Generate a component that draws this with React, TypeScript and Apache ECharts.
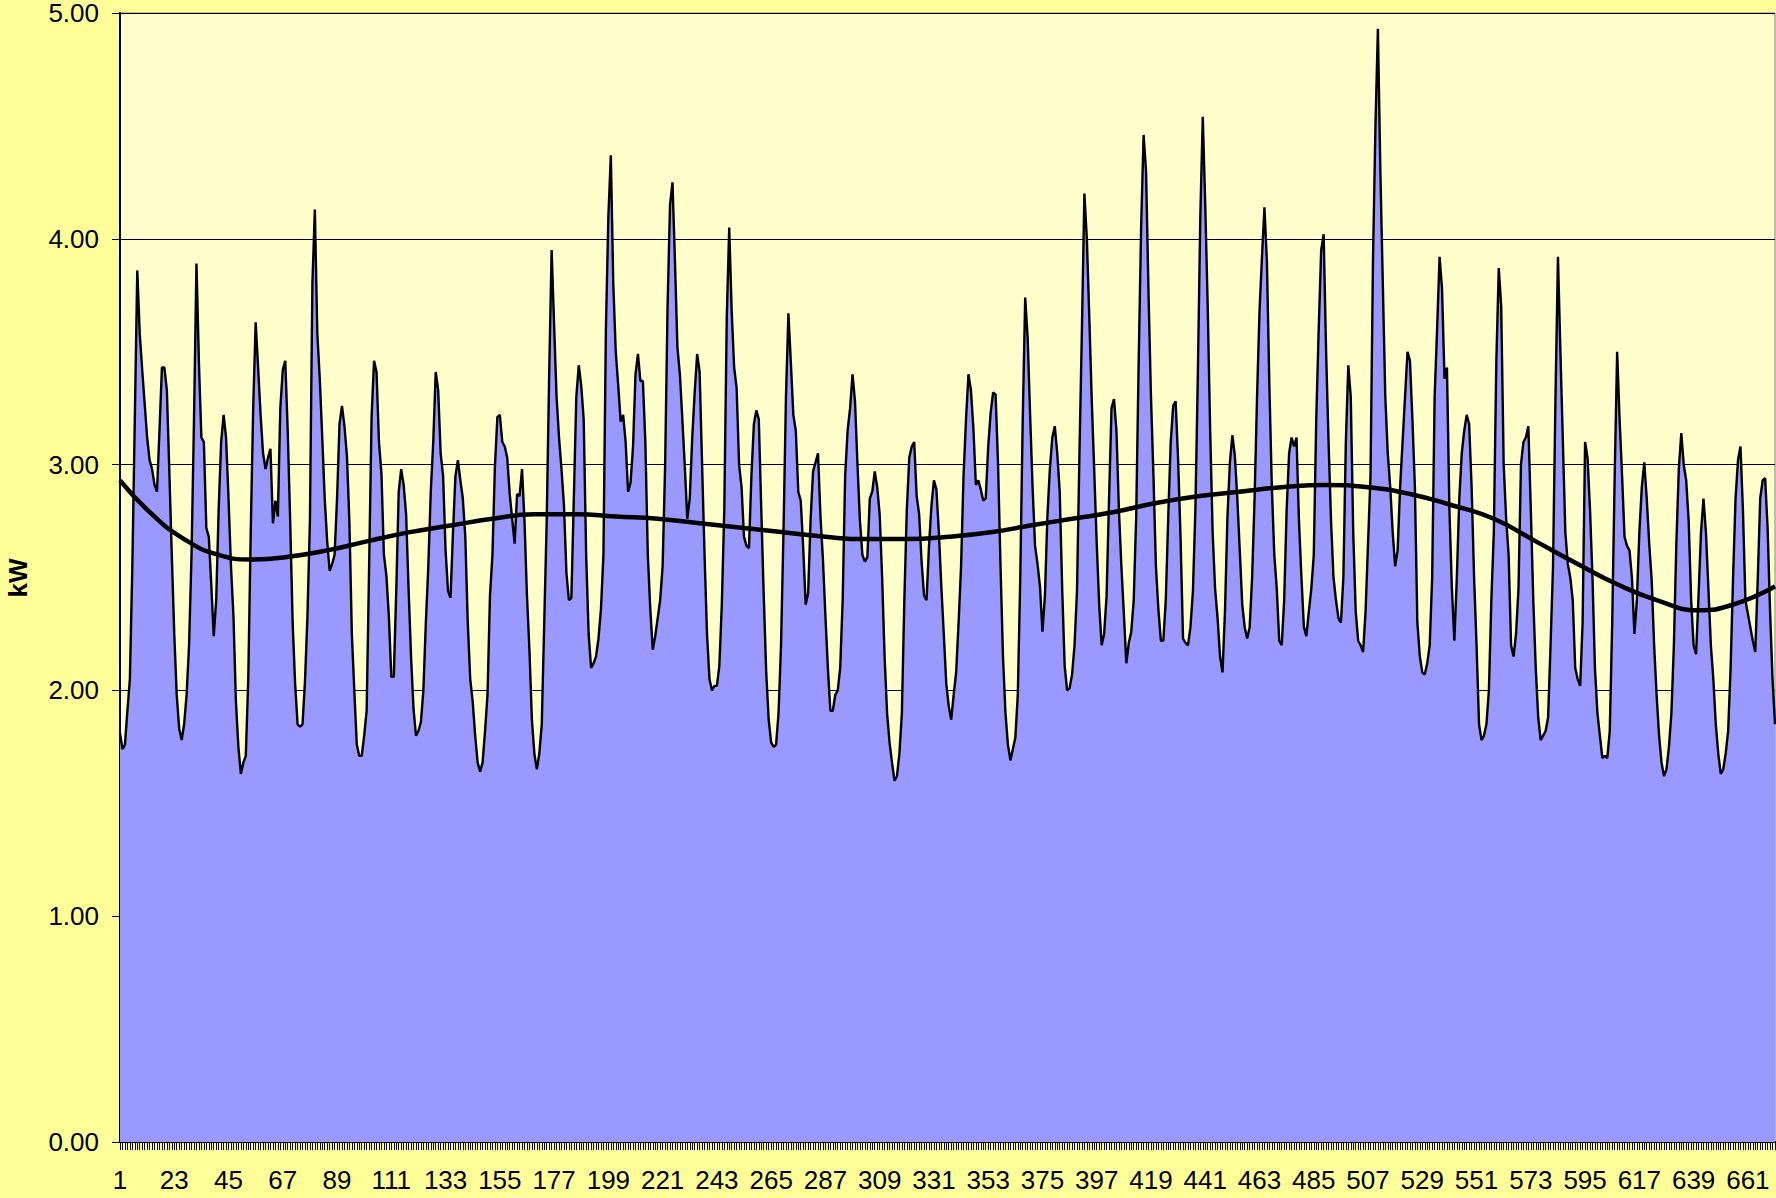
import React, { useEffect, useRef } from "react";
import * as echarts from "echarts";

// kW readings, consecutive intervals 1..672
const kwSegA = [
  1.81, 1.74, 1.76, 1.91, 2.05, 2.55, 3.2, 3.86, 3.58, 3.42,
  3.27, 3.12, 3.02, 2.98, 2.91, 2.88, 3.15, 3.43, 3.43, 3.33,
  2.97, 2.6, 2.25, 1.98, 1.83, 1.78, 1.85, 1.98, 2.2, 2.6,
  3.2, 3.89, 3.45, 3.12, 3.1, 2.72, 2.68, 2.47, 2.24, 2.4,
  2.8, 3.1, 3.22, 3.12, 2.85, 2.55, 2.33, 1.95, 1.75, 1.63,
  1.68, 1.71, 2.05, 2.7, 3.25, 3.63, 3.43, 3.22, 3.05, 2.98,
  3.03, 3.07, 2.74, 2.84, 2.77, 3.25, 3.42, 3.46,
];
const kwSegB = [
  3.15, 2.75, 2.3, 2.03, 1.85, 1.84, 1.85, 2.04, 2.33, 2.75,
  3.8, 4.13, 3.58, 3.38, 3.12, 2.85, 2.66, 2.53, 2.56, 2.6,
  2.85, 3.18, 3.26, 3.17, 3.04, 2.75, 2.25, 2.0, 1.76, 1.71,
  1.71, 1.8, 1.91, 2.55, 3.21, 3.46, 3.41, 3.1, 2.96, 2.6,
  2.51, 2.33, 2.06, 2.06, 2.44, 2.88, 2.98, 2.91, 2.78, 2.45,
  2.15, 1.92, 1.8, 1.82, 1.86, 2.0, 2.3, 2.55, 2.88, 3.1,
  3.41, 3.33, 3.05, 2.95, 2.62, 2.44, 2.41,
];
const kwSegC = [
  2.7, 2.95, 3.02, 2.93, 2.85, 2.68, 2.3, 2.05, 1.95, 1.8,
  1.68, 1.64, 1.68, 1.82, 1.98, 2.42, 2.6, 2.99, 3.21, 3.22,
  3.1, 3.08, 3.03, 2.87, 2.76, 2.65, 2.87, 2.86, 2.98, 2.75,
  2.42, 2.18, 1.87, 1.72, 1.65, 1.72, 1.85, 2.3, 2.75, 3.4,
  3.95, 3.62, 3.3, 3.12, 2.98, 2.82, 2.52, 2.4, 2.41, 2.85,
  3.3, 3.44, 3.35, 3.2, 2.6, 2.25, 2.1, 2.12, 2.15, 2.23,
  2.36, 2.6, 3.6, 4.1, 4.37, 3.8, 3.5,
];
const kwSegD = [
  3.35, 3.19, 3.22, 3.1, 2.88, 2.92, 3.08, 3.4, 3.49, 3.37,
  3.37, 3.1, 2.6, 2.36, 2.18, 2.24, 2.32, 2.4, 2.55, 2.99,
  3.7, 4.15, 4.25, 3.9, 3.52, 3.4, 3.2, 2.99, 2.76, 2.85,
  3.12, 3.32, 3.49, 3.41, 3.0, 2.6, 2.25, 2.05, 2.0, 2.02,
  2.02, 2.11, 2.38, 2.8, 3.65, 4.05, 3.68, 3.43, 3.34, 3.0,
  2.9, 2.68, 2.64, 2.63, 2.95, 3.18, 3.24, 3.2, 2.8, 2.42,
  2.08, 1.87, 1.77, 1.75, 1.76, 1.9, 2.2,
];
const kwSegE = [
  2.7, 3.3, 3.67, 3.45, 3.22, 3.15, 2.88, 2.84, 2.63, 2.38,
  2.43, 2.76, 2.97, 3.01, 3.05, 2.77, 2.58, 2.33, 2.1, 1.91,
  1.91, 1.98, 2.0, 2.1, 2.4, 2.95, 3.15, 3.25, 3.4, 3.28,
  3.0, 2.75, 2.6, 2.57, 2.59, 2.85, 2.88, 2.97, 2.9, 2.78,
  2.5, 2.15, 1.9, 1.77, 1.68, 1.6, 1.62, 1.72, 1.9, 2.4,
  2.8, 3.03, 3.08, 3.1, 2.86, 2.78, 2.57, 2.42, 2.4, 2.64,
  2.82, 2.93, 2.89, 2.7, 2.46, 2.25, 2.03, 1.93,
];
const kwSegF = [
  1.87, 1.98, 2.08, 2.3, 2.55, 2.95, 3.2, 3.4, 3.33, 3.16,
  2.91, 2.93, 2.89, 2.84, 2.85, 3.08, 3.23, 3.32, 3.31, 3.0,
  2.55, 2.15, 1.9, 1.76, 1.69, 1.74, 1.79, 1.98, 2.5, 3.2,
  3.74, 3.56, 3.22, 2.9, 2.64, 2.56, 2.46, 2.26, 2.42, 2.77,
  2.98, 3.12, 3.17, 3.05, 2.88, 2.45, 2.11, 2.0, 2.01, 2.07,
  2.2, 2.44, 3.05, 3.6, 4.2, 4.0, 3.65, 3.28, 2.97, 2.65,
  2.38, 2.2, 2.25, 2.42, 2.85, 3.25, 3.29,
];
const kwSegG = [
  3.15, 2.8, 2.55, 2.34, 2.12, 2.21, 2.26, 2.4, 2.77, 3.45,
  4.05, 4.46, 4.3, 3.76, 3.3, 2.95, 2.55, 2.36, 2.22, 2.22,
  2.4, 2.77, 3.1, 3.26, 3.28, 3.02, 2.67, 2.23, 2.21, 2.2,
  2.28, 2.44, 2.8, 3.4, 4.1, 4.54, 4.15, 3.7, 3.15, 2.7,
  2.45, 2.32, 2.15, 2.08, 2.35, 2.77, 3.01, 3.13, 3.04, 2.85,
  2.62, 2.38, 2.28, 2.23, 2.28, 2.5, 2.85, 3.3, 3.68, 3.92,
  4.14, 3.9, 3.35, 2.9, 2.6, 2.45, 2.22, 2.2,
];
const kwSegH = [
  2.4, 2.8, 3.05, 3.12, 3.08, 3.12, 2.75, 2.5, 2.28, 2.24,
  2.35, 2.45, 2.6, 3.2, 3.6, 3.95, 4.02, 3.5, 3.1, 2.75,
  2.5, 2.4, 2.32, 2.3, 2.5, 3.1, 3.44, 3.3, 2.7, 2.35,
  2.22, 2.2, 2.17, 2.35, 2.65, 2.95, 3.9, 4.5, 4.93, 4.3,
  3.8, 3.3, 3.05, 2.9, 2.7, 2.55, 2.62, 2.9, 3.1, 3.3,
  3.5, 3.46, 3.2, 2.9, 2.3, 2.15, 2.08, 2.07, 2.12, 2.2,
  2.5, 3.3, 3.6, 3.92, 3.78, 3.38, 3.43, 2.8, 2.45, 2.22,
  2.5, 2.85, 3.05, 3.15, 3.22, 3.18, 2.9, 2.5, 2.2, 1.85,
  1.78, 1.8, 1.85, 2.0, 2.4, 2.7, 3.45, 3.87, 3.7, 3.0,
  2.76, 2.6, 2.2, 2.15, 2.25, 2.45, 3.0, 3.1, 3.12, 3.17,
  2.8, 2.4, 2.1, 1.88, 1.78, 1.8, 1.82, 1.88, 2.2, 2.55,
  3.3, 3.92, 3.5, 3.1, 2.7, 2.56, 2.5, 2.4, 2.1, 2.05,
  2.02, 2.3, 3.1, 3.03, 2.8, 2.5, 2.1, 1.9,
];
const kwSegI = [
  1.8, 1.7, 1.71, 1.7, 1.82, 2.3, 2.95, 3.5, 3.2, 2.95,
  2.68, 2.64, 2.62, 2.5, 2.25, 2.4, 2.7, 2.9, 3.01, 2.85,
  2.65, 2.49, 2.2, 1.98, 1.8, 1.68, 1.62, 1.65, 1.75, 1.9,
  2.2, 2.65, 2.98, 3.14, 3.0, 2.93, 2.75, 2.4, 2.2, 2.16,
  2.42, 2.7, 2.85, 2.7, 2.45, 2.2, 2.05, 1.85, 1.72, 1.63,
  1.65, 1.72, 1.82, 2.1, 2.5, 2.85, 3.02, 3.08, 2.8, 2.4,
  2.34, 2.28, 2.22, 2.17, 2.49, 2.85, 2.93, 2.94, 2.72, 2.35,
  2.05, 1.85,
];

// polynomial trend line, read at these interval numbers
const trendAt = [1, 13, 27, 41, 54, 68, 85, 101, 118, 135, 152, 169, 186, 202, 219, 236, 253, 270, 287, 303, 320, 337, 354, 370, 387, 404, 421, 438, 455, 472, 490, 507, 524, 541, 558, 575, 592, 608, 624, 641, 655, 672];
const trendKw = [2.93, 2.79, 2.67, 2.6, 2.58, 2.59, 2.62, 2.66, 2.7, 2.73, 2.76, 2.78, 2.78, 2.77, 2.76, 2.74, 2.72, 2.7, 2.68, 2.67, 2.67, 2.68, 2.7, 2.73, 2.76, 2.79, 2.83, 2.86, 2.88, 2.9, 2.91, 2.9, 2.87, 2.82, 2.76, 2.66, 2.56, 2.47, 2.4, 2.355, 2.38, 2.46];

const yTicks = [0, 1, 2, 3, 4, 5];

const kwValues = [
  ...kwSegA, ...kwSegB, ...kwSegC, ...kwSegD, ...kwSegE,
  ...kwSegF, ...kwSegG, ...kwSegH, ...kwSegI,
];
const categories = kwValues.map((_, i) => String(i + 1));

export default function App() {
  const ref = useRef<HTMLDivElement>(null);
  useEffect(() => {
    if (!ref.current) return;
    const chart = echarts.init(ref.current, undefined, { renderer: "svg" });
    const font = "'Liberation Sans', Arial, sans-serif";
    chart.setOption({
      animation: false,
      backgroundColor: "#FFFF99",
      textStyle: { fontFamily: font },
      grid: {
        left: 120,
        right: 1,
        top: 13,
        bottom: 56,
        show: true,
        backgroundColor: "#FFFFCC",
        borderColor: "#808080",
        borderWidth: 1,
      },
      xAxis: {
        type: "category",
        data: categories,
        boundaryGap: false,
        axisLine: { lineStyle: { color: "#000", width: 2 } },
        axisTick: { show: true, interval: 0, length: 8, lineStyle: { color: "#000", width: 1 } },
        axisLabel: { interval: 21, color: "#000", fontSize: 26, fontFamily: font, margin: 25 },
        splitLine: { show: false },
      },
      yAxis: {
        type: "value",
        min: yTicks[0],
        max: yTicks[yTicks.length - 1],
        interval: 1,
        axisLine: { show: true, lineStyle: { color: "#000", width: 2 } },
        axisTick: { show: true, length: 8, lineStyle: { color: "#000", width: 1 } },
        axisLabel: {
          color: "#000",
          fontSize: 26,
          lineHeight: 20,
          fontFamily: font,
          margin: 21,
          formatter: (v: number) => v.toFixed(2),
        },
        splitLine: { show: true, lineStyle: { color: "#000", width: 1 } },
      },
      graphic: [
        {
          type: "text",
          x: 18,
          y: 578,
          rotation: Math.PI / 2,
          style: {
            text: "kW",
            fill: "#000",
            font: `bold 26px ${font}`,
            textAlign: "center",
            textVerticalAlign: "middle",
          },
        },
      ],
      series: [
        {
          type: "line",
          data: kwValues,
          showSymbol: false,
          symbol: "none",
          lineStyle: { color: "#000", width: 2.4 },
          areaStyle: { color: "#9999FF", opacity: 1 },
          z: 2,
        },
        {
          type: "line",
          data: trendAt.map((t, i) => [t - 1, trendKw[i]]),
          smooth: true,
          showSymbol: false,
          symbol: "none",
          lineStyle: { color: "#000", width: 4.5 },
          z: 3,
        },
      ],
    });
    return () => chart.dispose();
  }, []);
  return (
    <div
      ref={ref}
      style={{ position: "absolute", left: 0, top: 0, width: 1776, height: 1198 }}
    />
  );
}
